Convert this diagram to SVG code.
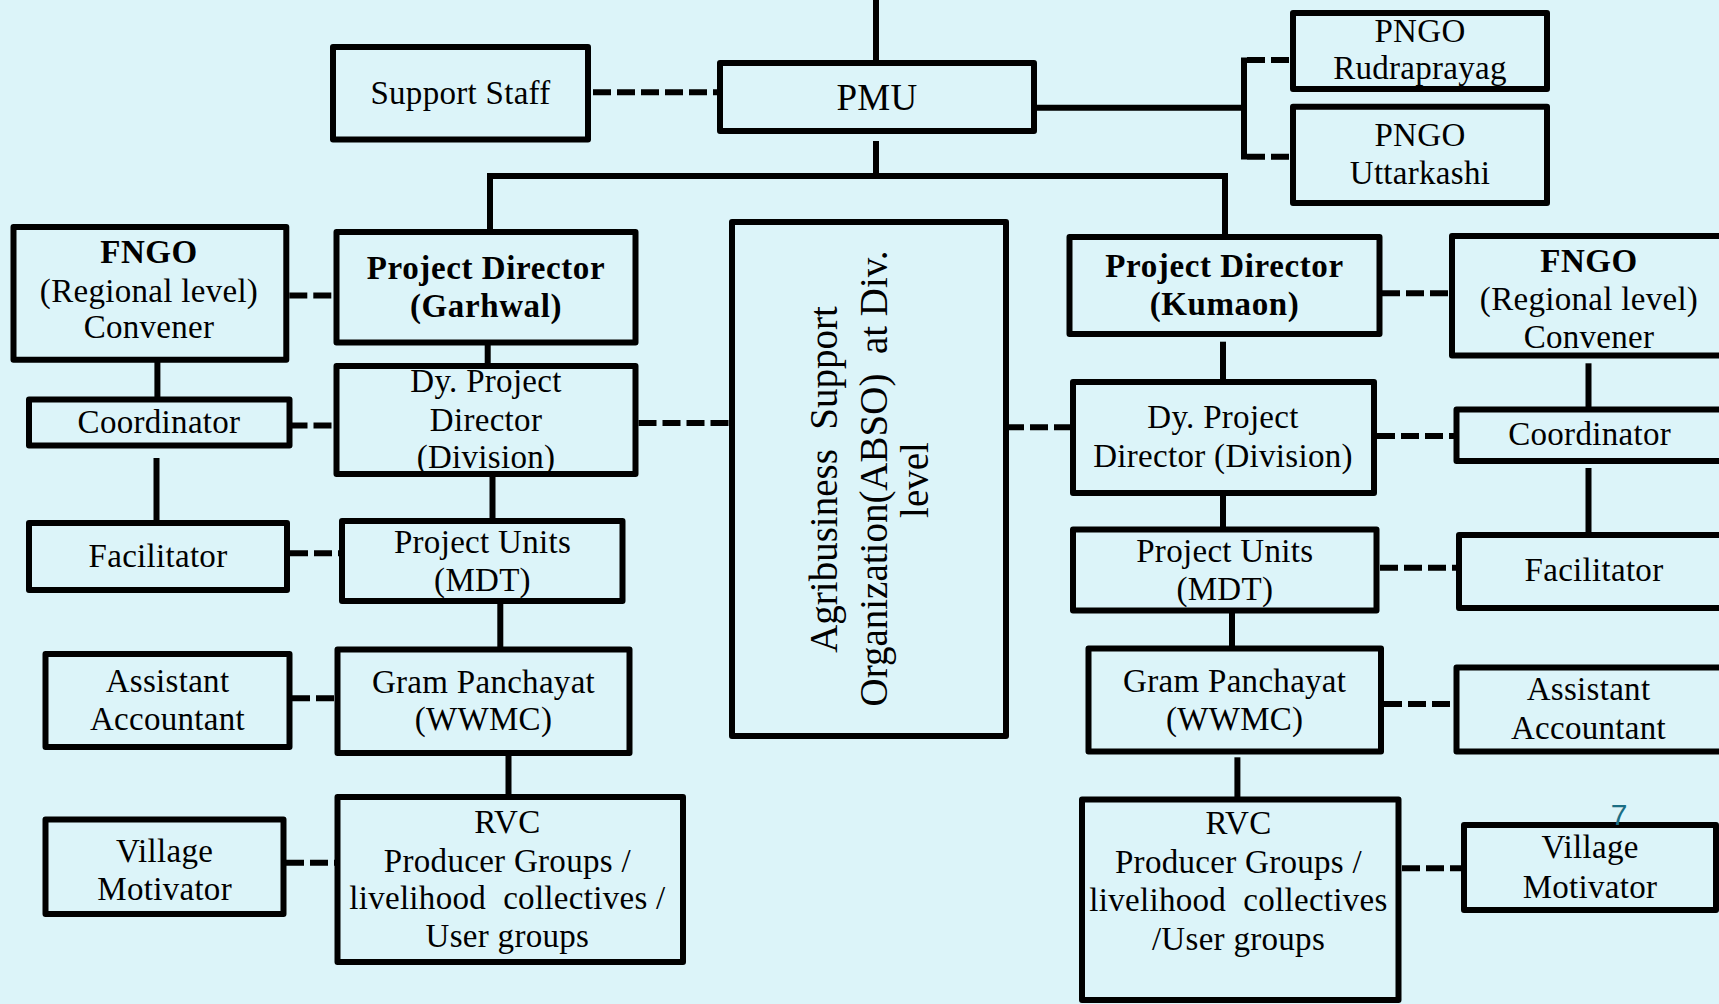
<svg xmlns="http://www.w3.org/2000/svg" width="1719" height="1004" viewBox="0 0 1719 1004">
<style>
.bg{fill:#dcf4f9}
.box{fill:#dcf4f9;stroke:#000;stroke-width:6;stroke-linejoin:round}
.ln{fill:none;stroke:#000;stroke-width:6}
.dl{fill:none;stroke:#000;stroke-width:6;stroke-dasharray:18 6}
text{font-family:"Liberation Serif","Times New Roman",serif;font-size:33px;fill:#000;text-anchor:middle;letter-spacing:0.3px}
.b{font-weight:bold;letter-spacing:0.6px}
.pmu{font-size:37px}
.v{font-size:39px;letter-spacing:0}
.num{font-family:"Liberation Sans",Arial,sans-serif;font-size:30px;fill:#1b6e84;letter-spacing:0}
</style>
<rect class="bg" x="0" y="0" width="1719" height="1004"/>

<g id="connectors">
<path class="ln" d="M876,0 V63"/>
<path class="ln" d="M876,141 V176"/>
<path class="ln" d="M490,232 V176 H1225 V237"/>
<path class="ln" d="M1036,107.7 H1244"/>
<path class="ln" d="M1244,57.5 V159.5"/>
<path class="dl" d="M1247,60 H1293"/>
<path class="dl" d="M1247,156.7 H1293"/>
<path class="ln" d="M487.7,342 V366"/>
<path class="ln" d="M492.5,474 V521"/>
<path class="ln" d="M500.3,601 V649.5"/>
<path class="ln" d="M508.5,753 V797"/>
<path class="ln" d="M157.4,359.8 V399.5"/>
<path class="ln" d="M156.5,458 V523"/>
<path class="ln" d="M1223,341.7 V382"/>
<path class="ln" d="M1223,493 V529.5"/>
<path class="ln" d="M1232,610.5 V648.5"/>
<path class="ln" d="M1237.4,757.3 V799.5"/>
<path class="ln" d="M1588.5,363.3 V409.5"/>
<path class="ln" d="M1588.5,468 V535"/>
<path class="dl" d="M593,92.2 H720"/>
<path class="dl" d="M289.3,295.5 H342.7"/>
<path class="dl" d="M289.5,425.5 H336"/>
<path class="dl" d="M638.5,423 H732"/>
<path class="dl" d="M290,553.3 H342"/>
<path class="dl" d="M292,698.3 H337.5"/>
<path class="dl" d="M286,862.7 H337.5"/>
<path class="dl" d="M1006,427.3 H1073"/>
<path class="dl" d="M1382,293.3 H1452"/>
<path class="dl" d="M1377,436 H1456.5"/>
<path class="dl" d="M1380,567.7 H1459"/>
<path class="dl" d="M1384,704 H1456.5"/>
<path class="dl" d="M1402,868.3 H1464"/>
</g>

<g id="support-staff"><rect class="box" x="333" y="47" width="255" height="92.5"/><text x="460.5" y="103.5">Support Staff</text></g>
<g id="pmu"><rect class="box" x="720" y="63" width="314" height="68"/><text class="pmu" x="877" y="109.5">PMU</text></g>
<g id="pngo-rudraprayag"><rect class="box" x="1293" y="13" width="254" height="76"/><text x="1420" y="42">PNGO</text><text x="1420" y="79">Rudraprayag</text></g>
<g id="pngo-uttarkashi"><rect class="box" x="1293" y="106.7" width="254" height="96.3"/><text x="1420" y="146">PNGO</text><text x="1420" y="184">Uttarkashi</text></g>

<g id="pd-garhwal"><rect class="box" x="336.5" y="232" width="299" height="110.5"/><text class="b" x="486" y="279.3">Project Director</text><text class="b" x="486" y="316.7">(Garhwal)</text></g>
<g id="pd-kumaon"><rect class="box" x="1069.5" y="237" width="310" height="97"/><text class="b" x="1224.5" y="277.3">Project Director</text><text class="b" x="1224.5" y="315">(Kumaon)</text></g>

<g id="fngo-left"><rect class="box" x="13.5" y="227" width="272.8" height="132.8"/><text class="b" x="149" y="262.7">FNGO</text><text x="149" y="301.7">(Regional level)</text><text x="149" y="338.3">Convener</text></g>
<g id="fngo-right"><rect class="box" x="1452" y="236" width="280" height="119.5"/><text class="b" x="1589" y="271.7">FNGO</text><text x="1589" y="310">(Regional level)</text><text x="1589" y="348.3">Convener</text></g>

<g id="coordinator-left"><rect class="box" x="29" y="399.5" width="260.5" height="46"/><text x="159" y="433.3">Coordinator</text></g>
<g id="coordinator-right"><rect class="box" x="1456.5" y="409.5" width="276" height="51.5"/><text x="1589.6" y="445">Coordinator</text></g>

<g id="dy-left"><rect class="box" x="336.5" y="366" width="299" height="108"/><text x="486" y="391.7">Dy. Project</text><text x="486" y="430.7">Director</text><text x="486" y="468.3">(Division)</text></g>
<g id="dy-right"><rect class="box" x="1073" y="382" width="301" height="111"/><text x="1223" y="428.3">Dy. Project</text><text x="1223" y="466.7">Director (Division)</text></g>

<g id="abso"><rect class="box" x="732" y="222" width="274" height="514"/>
<text class="v" xml:space="preserve" transform="translate(837,479.5) rotate(-90)">Agribusiness  Support</text>
<text class="v" xml:space="preserve" transform="translate(887,478.5) rotate(-90)">Organization(ABSO)  at Div.</text>
<text class="v" transform="translate(928,480) rotate(-90)">level</text></g>

<g id="facilitator-left"><rect class="box" x="29" y="523" width="258" height="67"/><text x="158" y="566.7">Facilitator</text></g>
<g id="facilitator-right"><rect class="box" x="1459" y="535" width="273" height="73"/><text x="1594" y="581">Facilitator</text></g>

<g id="pu-left"><rect class="box" x="342" y="521" width="280.5" height="80"/><text x="482.5" y="552.7">Project Units</text><text x="482.5" y="590.7">(MDT)</text></g>
<g id="pu-right"><rect class="box" x="1073" y="529.5" width="303.5" height="81"/><text x="1224.8" y="561.7">Project Units</text><text x="1224.8" y="600">(MDT)</text></g>

<g id="gp-left"><rect class="box" x="337.5" y="649.5" width="292" height="103.5"/><text x="483.5" y="692.7">Gram Panchayat</text><text x="483.5" y="730">(WWMC)</text></g>
<g id="gp-right"><rect class="box" x="1088.5" y="648.5" width="292.5" height="103"/><text x="1234.7" y="691.7">Gram Panchayat</text><text x="1234.7" y="730">(WWMC)</text></g>

<g id="aa-left"><rect class="box" x="45.5" y="654" width="244" height="93"/><text x="167.5" y="691.7">Assistant</text><text x="167.5" y="730">Accountant</text></g>
<g id="aa-right"><rect class="box" x="1456.5" y="667.5" width="276" height="84"/><text x="1588.5" y="700">Assistant</text><text x="1588.5" y="739.3">Accountant</text></g>

<g id="rvc-left"><rect class="box" x="337.5" y="797" width="345.5" height="165"/><text x="507.4" y="833.3">RVC</text><text x="507.4" y="871.7">Producer Groups /</text><text x="507.4" y="909.3" xml:space="preserve">livelihood  collectives /</text><text x="507.4" y="946.7">User groups</text></g>
<g id="rvc-right"><rect class="box" x="1082" y="799.5" width="316.5" height="200.5"/><text x="1238.5" y="834.3">RVC</text><text x="1238.5" y="872.7">Producer Groups /</text><text x="1238.5" y="911" xml:space="preserve">livelihood  collectives</text><text x="1238.5" y="950">/User groups</text></g>

<g id="vm-left"><rect class="box" x="45.5" y="819.5" width="238" height="94.5"/><text x="164.6" y="861.7">Village</text><text x="164.6" y="900">Motivator</text></g>
<g id="vm-right"><rect class="box" x="1464" y="825" width="252" height="85"/><text x="1590" y="858.3">Village</text><text x="1590" y="897.7">Motivator</text></g>

<text class="num" x="1619" y="825">7</text>
</svg>
